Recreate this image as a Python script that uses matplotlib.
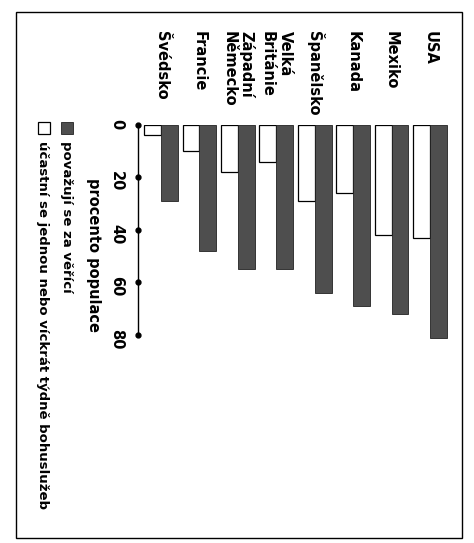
#!/usr/bin/env python3
# -*- coding: utf-8 -*-
import matplotlib
matplotlib.use('Agg')
import matplotlib.pyplot as plt
from matplotlib.patches import Rectangle

# data (chart is printed turned 90 degrees clockwise)
countries = ['Švédsko', 'Francie', 'Západní\nNěmecko', 'Velká\nBritánie',
             'Španělsko', 'Kanada', 'Mexiko', 'USA']
believers = [29, 48, 55, 55, 64, 69, 72, 81]
attendance = [4, 10, 18, 14, 29, 26, 42, 43]
ticks = [0, 20, 40, 60, 80]
tick_labels = ['0', '20', '40', '60', '80']
axis_label = 'procento populace'
legend_labels = ['považují se za věřící',
                 'účastní se jednou nebo víckrát týdně bohuslužeb']

plt.rcParams['font.family'] = ['DejaVu Sans']
plt.rcParams['font.weight'] = 'bold'

W, H = 474, 543
fig = plt.figure(figsize=(W/100, H/100), dpi=100)

# axes: value 0 at y=125px, 85 at y=348px; x from 138px to 453px
ax = fig.add_axes([138/W, 1-348/H, (453-138)/W, (348-125)/H])
x = list(range(len(countries)))
bw = 0.44
ax.bar([i-0.22 for i in x], attendance, width=bw, color='white',
       edgecolor='black', linewidth=0.9)
ax.bar([i+0.22 for i in x], believers, width=bw, color='#4e4e4e',
       edgecolor='#222222', linewidth=0.6)
ax.set_xlim(-0.6, 7.6)
ax.set_ylim(85, 0)

for s in ['top', 'right', 'bottom']:
    ax.spines[s].set_visible(False)
ax.spines['left'].set_bounds(0, 80)
ax.spines['left'].set_linewidth(1.0)
ax.plot([-0.6]*len(ticks), ticks, 'o', color='black', ms=3.5, clip_on=False)
ax.set_xticks([])
ax.set_yticks(ticks)
ax.set_yticklabels(tick_labels, rotation=-90, fontsize=10.5, fontweight='bold')
ax.tick_params(axis='y', length=0, pad=10)

# country names above the bars
for i, c in enumerate(countries):
    ax.text(i, -36, c, rotation=-90, rotation_mode='anchor', ha='left',
            va='center', multialignment='left', fontsize=10.5,
            fontweight='bold')

# axis title
fig.text(94/W, 1-178/H, axis_label, rotation=-90, rotation_mode='anchor',
         ha='left', va='center', fontsize=10.5, fontweight='bold')

# legend
fig.patches.append(Rectangle((61/W, 1-134/H), 12/W, 12/H, transform=fig.transFigure,
                             facecolor='#4e4e4e', edgecolor='#222222', lw=0.6))
fig.patches.append(Rectangle((38/W, 1-134/H), 12/W, 12/H, transform=fig.transFigure,
                             facecolor='white', edgecolor='black', lw=0.9))
fig.text(67/W, 1-141/H, legend_labels[0], rotation=-90, rotation_mode='anchor',
         ha='left', va='center', fontsize=9.5, fontweight='bold')
fig.text(43/W, 1-141/H, legend_labels[1], rotation=-90, rotation_mode='anchor',
         ha='left', va='center', fontsize=9.5, fontweight='bold')

# frame
fig.patches.append(Rectangle((16/W, 1-538/H), (462-16)/W, (538-12)/H,
                             transform=fig.transFigure, fill=False,
                             edgecolor='black', lw=1.0))

plt.savefig('out.png', dpi=100)
